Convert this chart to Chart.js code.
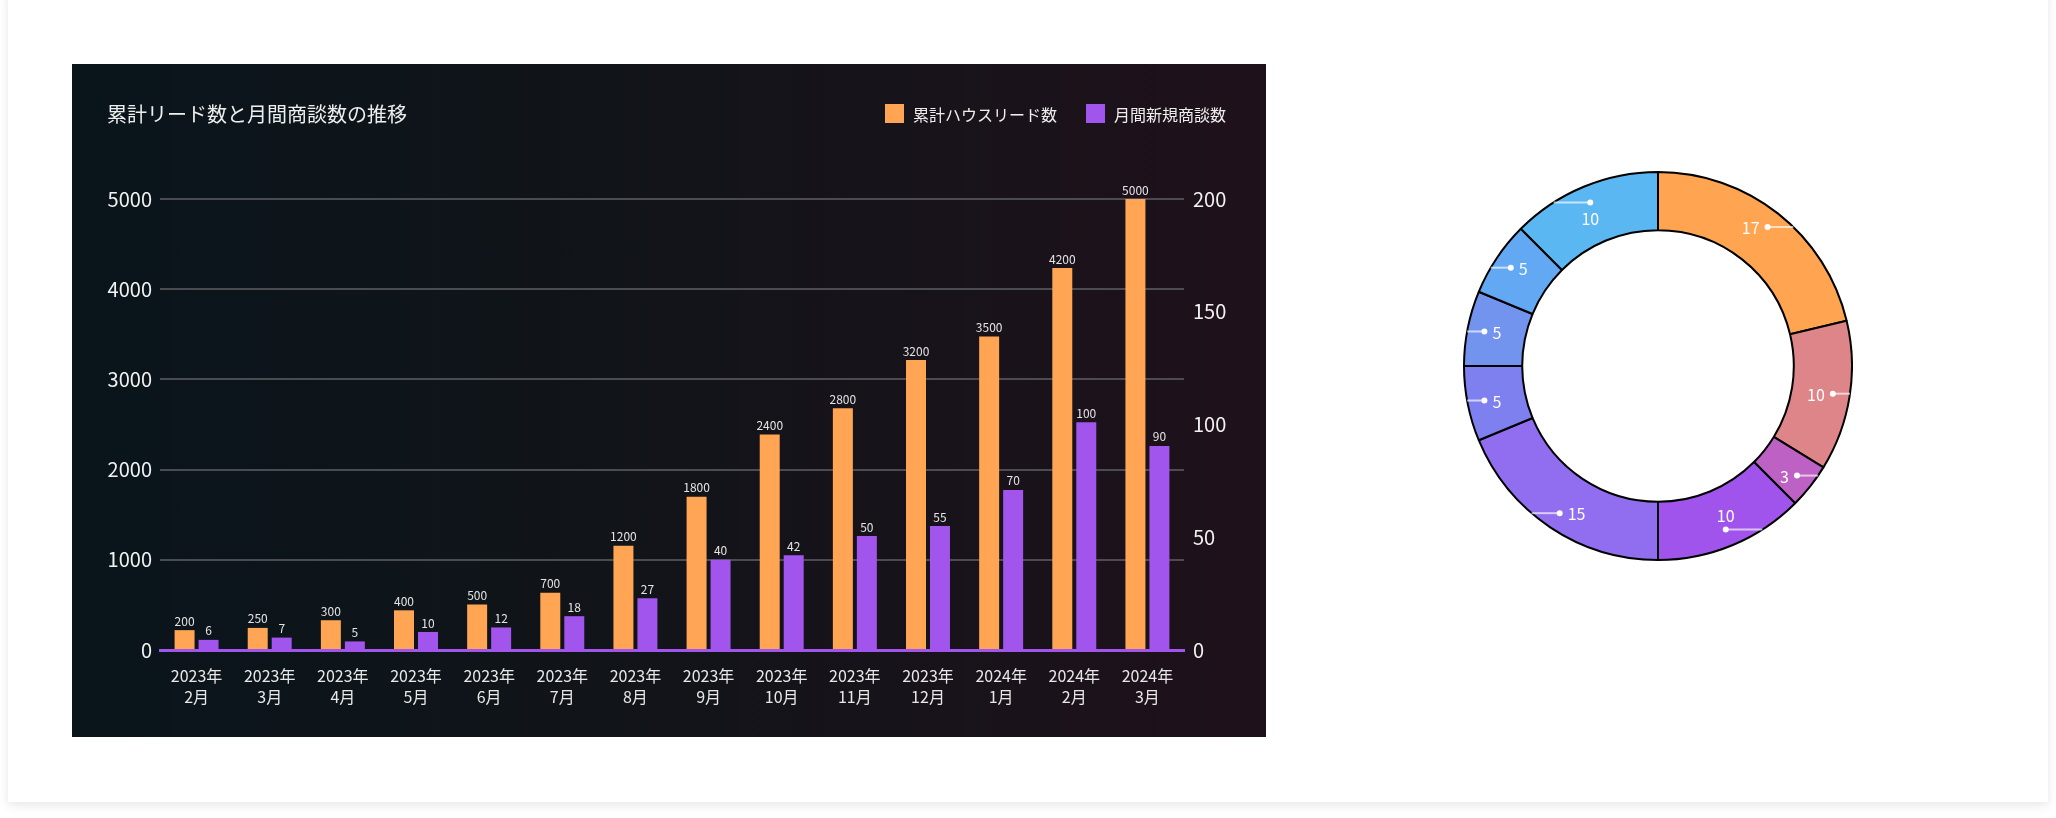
<!DOCTYPE html>
<html lang="ja">
<head>
<meta charset="utf-8">
<script src="https://cdn.jsdelivr.net/npm/chart.js@4.4.1/dist/chart.umd.min.js"></script>
<style>
  html, body { margin: 0; padding: 0; width: 2056px; height: 818px; overflow: hidden; background: #fff;
    font-family: "Noto Sans CJK JP", "Noto Sans", sans-serif; }
  .card { position: absolute; left: 8px; top: -10px; width: 2040px; height: 812px; background: #fff;
    box-shadow: 0 3px 10px rgba(0, 0, 0, 0.10); }
  .panel { position: absolute; left: 72px; top: 64px; width: 1194px; height: 673px;
    background: linear-gradient(90deg, #09151b 0%, #121419 50%, #1f111b 100%); }
  .panel canvas { position: absolute; left: 0; top: 0; }
  .title { position: absolute; left: 35px; top: 36px; font-size: 20px; line-height: 28px; color: #eeeeee; }
  .lg { position: absolute; top: 40px; height: 19px; display: flex; align-items: center; font-size: 16px; color: #eeeeee; }
  .lg i { display: inline-block; width: 19px; height: 19px; margin-right: 9px; }
  #ring { position: absolute; left: 1463px; top: 171px; }
</style>
</head>
<body>
<div class="card"></div>
<div class="panel">
  <canvas id="bars" width="1194" height="673"></canvas>
  <div class="title">累計リード数と月間商談数の推移</div>
  <div class="lg" style="left:813px"><i style="background:#FFA554"></i>累計ハウスリード数</div>
  <div class="lg" style="left:1014px"><i style="background:#A155EC"></i>月間新規商談数</div>
</div>
<canvas id="ring" width="390" height="390"></canvas>

<script>
const months = [
  ['2023年', '2月'], ['2023年', '3月'], ['2023年', '4月'], ['2023年', '5月'],
  ['2023年', '6月'], ['2023年', '7月'], ['2023年', '8月'], ['2023年', '9月'],
  ['2023年', '10月'], ['2023年', '11月'], ['2023年', '12月'], ['2024年', '1月'],
  ['2024年', '2月'], ['2024年', '3月']
];

// bar heights as drawn, and the numbers printed above them
const leadTotals = [220, 245, 330, 440, 505, 635, 1155, 1700, 2390, 2680, 3215, 3475, 4235, 5000];
const leadLabels = ['200', '250', '300', '400', '500', '700', '1200', '1800', '2400', '2800', '3200', '3500', '4200', '5000'];
const newDeals = [4.5, 5.5, 3.8, 8, 10, 15, 23, 40, 42, 50.5, 55, 71, 101, 90.5];
const dealLabels = ['6', '7', '5', '10', '12', '18', '27', '40', '42', '50', '55', '70', '100', '90'];

const leftTicks = [0, 1000, 2000, 3000, 4000, 5000];
const rightTicks = [0, 50, 100, 150, 200];

const ringValues = [17, 10, 3, 10, 15, 5, 5, 5, 10];
const ringColors = ['#FFA552', '#DE858A', '#BD61C4', '#A154EC', '#916DEF', '#7F80EF', '#7294EF', '#63A8F3', '#5BB7F2'];

const FONT = '"Noto Sans CJK JP", "Noto Sans", sans-serif';

const barValueLabels = {
  id: 'barValueLabels',
  afterDatasetsDraw(chart) {
    const ctx = chart.ctx;
    const texts = [leadLabels, dealLabels];
    ctx.save();
    ctx.font = '12px ' + FONT;
    ctx.fillStyle = '#e4e4e4';
    ctx.textAlign = 'center';
    ctx.textBaseline = 'bottom';
    chart.data.datasets.forEach((ds, di) => {
      chart.getDatasetMeta(di).data.forEach((bar, i) => {
        ctx.fillText(texts[di][i], bar.x, bar.y - 3);
      });
    });
    ctx.restore();
  }
};

new Chart(document.getElementById('bars'), {
  type: 'bar',
  data: {
    labels: months,
    datasets: [
      { label: '累計ハウスリード数', data: leadTotals, backgroundColor: '#FFA554', yAxisID: 'y',
        categoryPercentage: 0.656, barPercentage: 0.833 },
      { label: '月間新規商談数', data: newDeals, backgroundColor: '#A155EC', yAxisID: 'y1',
        categoryPercentage: 0.656, barPercentage: 0.833 }
    ]
  },
  options: {
    responsive: false,
    animation: false,
    events: [],
    layout: { padding: { top: 135, left: 0, right: 0, bottom: 0 } },
    plugins: { legend: { display: false }, tooltip: { enabled: false } },
    scales: {
      x: {
        grid: { color: 'transparent', drawTicks: false },
        border: { display: true, color: '#A155EC', width: 3 },
        ticks: { color: '#e8e8e8', font: { size: 16, family: FONT, lineHeight: 1.3 }, padding: 16,
          maxRotation: 0, autoSkip: false },
        afterFit: s => { s.height = 87; }
      },
      y: {
        position: 'left', min: 0, max: 5000,
        afterBuildTicks: s => { s.ticks = leftTicks.map(v => ({ value: v })); },
        ticks: { color: '#f2f2f2', font: { size: 20, family: FONT }, padding: 8, callback: v => String(v) },
        grid: { color: c => (c.tick && c.tick.value === 0) ? 'transparent' : '#4a4c52', lineWidth: 2, drawTicks: false },
        border: { display: false },
        afterFit: s => { s.width = 88; }
      },
      y1: {
        position: 'right', min: 0, max: 200,
        afterBuildTicks: s => { s.ticks = rightTicks.map(v => ({ value: v })); },
        ticks: { color: '#f2f2f2', font: { size: 20, family: FONT }, padding: 9, callback: v => String(v) },
        grid: { display: false, drawTicks: false },
        border: { display: false },
        afterFit: s => { s.width = 82; }
      }
    }
  },
  plugins: [barValueLabels]
});

const ringLabels = {
  id: 'ringLabels',
  afterDatasetsDraw(chart) {
    const ctx = chart.ctx;
    const values = chart.data.datasets[0].data;
    ctx.save();
    ctx.font = '16px ' + FONT;
    ctx.fillStyle = '#ffffff';
    ctx.strokeStyle = 'rgba(255,255,255,0.65)';
    ctx.lineWidth = 2;
    chart.getDatasetMeta(0).data.forEach((arc, i) => {
      const p = arc.getProps(['x', 'y', 'startAngle', 'endAngle', 'outerRadius'], true);
      const mid = (p.startAngle + p.endAngle) / 2;
      const r = p.outerRadius - 17;
      const px = p.x + Math.cos(mid) * r;
      const py = p.y + Math.sin(mid) * r;
      const dir = Math.cos(mid) >= 0 ? 1 : -1;
      const edge = p.x + dir * Math.sqrt(Math.max(p.outerRadius * p.outerRadius - (py - p.y) * (py - p.y), 0));
      ctx.beginPath();
      ctx.moveTo(px, py);
      ctx.lineTo(edge, py);
      ctx.stroke();
      ctx.beginPath();
      ctx.arc(px, py, 3, 0, Math.PI * 2);
      ctx.fill();
      const txt = String(values[i]);
      if (Math.abs(Math.cos(mid)) < 0.45) {
        ctx.textAlign = 'center';
        ctx.textBaseline = 'middle';
        ctx.fillText(txt, px, Math.sin(mid) > 0 ? py - 14 : py + 16);
      } else {
        ctx.textAlign = dir > 0 ? 'right' : 'left';
        ctx.textBaseline = 'middle';
        ctx.fillText(txt, px - dir * 8, py + 1);
      }
    });
    ctx.restore();
  }
};

new Chart(document.getElementById('ring'), {
  type: 'doughnut',
  data: {
    labels: ringValues.map(String),
    datasets: [{ data: ringValues, backgroundColor: ringColors, borderColor: '#000000', borderWidth: 2 }]
  },
  options: {
    responsive: false,
    animation: false,
    events: [],
    cutout: '70%',
    layout: { padding: 0 },
    plugins: { legend: { display: false }, tooltip: { enabled: false } }
  },
  plugins: [ringLabels]
});
</script>
</body>
</html>
